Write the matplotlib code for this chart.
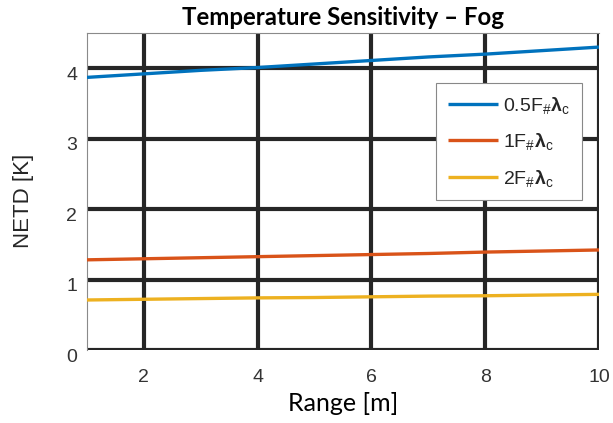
import matplotlib
matplotlib.use("Agg")
import matplotlib.pyplot as plt
import matplotlib.transforms as mtransforms

range_m = [1, 2, 3, 4, 5, 6, 7, 8, 9, 10]
netd_05 = [3.87, 3.92, 3.97, 4.01, 4.06, 4.11, 4.16, 4.20, 4.25, 4.30]
netd_1 = [1.28, 1.295, 1.31, 1.325, 1.34, 1.355, 1.37, 1.39, 1.405, 1.42]
netd_2 = [0.71, 0.72, 0.73, 0.74, 0.745, 0.755, 0.765, 0.77, 0.78, 0.79]
labels = [r'0.5F$_{\#}\mathbf{\lambda}_{\mathrm{c}}$',
          r'1F$_{\#}\mathbf{\lambda}_{\mathrm{c}}$',
          r'2F$_{\#}\mathbf{\lambda}_{\mathrm{c}}$']
xticks = [2, 4, 6, 8, 10]
yticks = [0, 1, 2, 3, 4]
title = 'Temperature Sensitivity – Fog'
xlabel = 'Range [m]'
ylabel = 'NETD [K]'

plt.rcParams['font.family'] = ['Liberation Sans', 'DejaVu Sans']
plt.rcParams['mathtext.fontset'] = 'custom'
plt.rcParams['mathtext.rm'] = 'Liberation Sans'
plt.rcParams['mathtext.bf'] = 'Liberation Sans:bold'
plt.rcParams['mathtext.it'] = 'Liberation Sans:italic'

fig = plt.figure(figsize=(6.13, 4.23), dpi=100)
ax = fig.add_axes([87/613, 1-350/423, (599-87)/613, (350-33)/423])

grid_c = '#262626'
for xv in xticks:
    ax.axvline(xv, color=grid_c, lw=3.0, zorder=1)
for yv in yticks:
    ax.axhline(yv, color=grid_c, lw=3.0, zorder=1)

cols = ['#0072BD', '#D95319', '#EDB120']
for ys, c, lab in zip([netd_05, netd_1, netd_2], cols, labels):
    ax.plot(range_m, ys, color=c, lw=2.4, label=lab, zorder=3, solid_capstyle='butt')

ax.set_xlim(1, 10)
ax.set_ylim(0, 4.5)
ax.set_xticks(xticks)
ax.set_yticks(yticks)
ax.tick_params(length=0, labelsize=14, labelcolor='#333333')
ax.tick_params(axis='x', pad=14)
ax.tick_params(axis='y', pad=7)
for lbl in ax.get_yticklabels():
    lbl.set_transform(lbl.get_transform() + mtransforms.ScaledTranslation(0, -5/100, fig.dpi_scale_trans))

for s in ['left', 'top']:
    ax.spines[s].set_color('#8a8a8a')
    ax.spines[s].set_linewidth(0.8)
for s in ['right', 'bottom']:
    ax.spines[s].set_visible(False)

ax.set_title(title, fontsize=17.3, fontweight='bold', family='Lato', pad=6)
ax.set_xlabel(xlabel, fontsize=18, family='Lato')
ax.xaxis.set_label_coords(0.5, -(403 - 350) / 317)
ax.xaxis.label.set_verticalalignment('center')
ax.set_ylabel(ylabel, fontsize=16, color='#262626')
ax.yaxis.set_label_coords((24 - 87) / 512, (350 - 201) / 317)
ax.yaxis.label.set_verticalalignment('center')

leg = ax.legend(loc='upper left', bbox_to_anchor=((436 - 87) / 512, (350 - 83) / 317), fontsize=14,
                frameon=True, fancybox=False, framealpha=1, edgecolor='#888888',
                handlelength=2.57, handletextpad=0.28, borderpad=0.6, labelspacing=0.8,
                borderaxespad=0)
leg.get_frame().set_linewidth(0.8)
leg.set_zorder(5)
for t in leg.get_texts():
    t.set_color('#262626')

fig.savefig('out.png', dpi=100)
